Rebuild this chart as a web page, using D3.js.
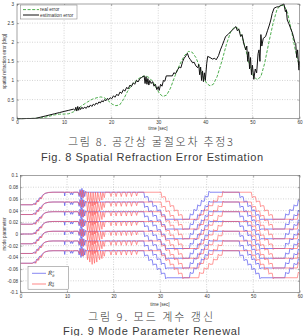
<!DOCTYPE html>
<html><head><meta charset="utf-8">
<script src="https://cdn.jsdelivr.net/npm/d3@7"></script>
<style>body{margin:0;background:#fff}svg{display:block}</style>
</head><body><svg id="c" width="306" height="336"></svg>
<script>
// ---------- data ----------
const timeTicks = [0, 10, 20, 30, 40, 50, 60];
const errTicks = [0, 0.5, 1, 1.5, 2, 2.5, 3];
const modeTicks = [0.1, 0.08, 0.06, 0.04, 0.02, 0, -0.02, -0.04, -0.06, -0.08, -0.1];
const modeTickLabels = ["0.1","0.08","0.06","0.04","0.02","0","-0.02","-0.04","-0.06","-0.08","-0.1"];

// Fig 8: real error (time, deg)
const realErr = [[0,0],[2,0.005],[4,0.01],[5,0.02],[6,0.04],[7,0.07],[8,0.1],[9,0.12],[10,0.12],[11,0.13],[12,0.18],[13,0.27],[14,0.36],[15,0.44],[16,0.51],[17,0.55],[17.8,0.57],[18.5,0.55],[19.3,0.48],[20.2,0.38],[21,0.34],[21.8,0.36],[22.6,0.5],[23.5,0.72],[24.5,0.9],[25.5,1.02],[26.5,1.1],[27.3,1.12],[28,1.08],[28.8,0.98],[29.6,0.8],[30.3,0.65],[31,0.58],[31.8,0.62],[32.6,0.8],[33.5,1.1],[34.5,1.4],[35.5,1.64],[36.4,1.76],[37.2,1.74],[38,1.6],[38.8,1.35],[39.6,1.08],[40.3,0.92],[41,0.86],[41.7,0.9],[42.5,1.1],[43.5,1.5],[44.5,1.95],[45.4,2.28],[46.2,2.4],[47,2.36],[47.8,2.15],[48.6,1.8],[49.4,1.4],[50.2,1.12],[51,1.02],[51.8,1.1],[52.6,1.45],[53.5,2.0],[54.4,2.5],[55.2,2.85],[56,2.97],[56.8,2.95],[57.5,2.75],[58.3,2.3],[59.1,1.8],[60,1.37]];

// Fig 8: estimation error (time, deg)
const estErr = [[0,0],[1,0],[2,0.005],[3,0.005],[4,0.01],[5,0.04],[6,0.07],[7,0.1],[8,0.13],[9,0.16],[10,0.19],[11,0.22],[12,0.25],[12.3,0.22],[12.5,0.3],[12.7,0.2],[12.9,0.32],[13.1,0.22],[13.3,0.3],[13.5,0.24],[13.8,0.3],[14,0.26],[14.4,0.3],[14.7,0.27],[15,0.33],[15.3,0.3],[15.6,0.36],[15.9,0.32],[16.2,0.38],[16.5,0.35],[16.8,0.41],[17.1,0.38],[17.4,0.44],[17.7,0.41],[18,0.47],[18.3,0.44],[18.6,0.5],[18.9,0.47],[19.2,0.53],[19.5,0.5],[19.8,0.55],[20.1,0.52],[20.5,0.6],[20.8,0.56],[21.2,0.64],[21.5,0.6],[21.9,0.7],[22.2,0.66],[22.6,0.76],[22.9,0.72],[23.3,0.82],[23.6,0.78],[24,0.88],[24.3,0.84],[24.7,0.94],[25,0.9],[25.4,1.0],[25.7,0.96],[26.1,1.05],[26.5,1.08],[27,1.12],[27.2,0.92],[27.4,1.1],[27.6,0.9],[27.8,1.05],[28,0.88],[28.2,1.0],[28.5,0.92],[28.8,0.97],[29.1,0.85],[29.4,0.9],[29.7,0.76],[30,0.84],[30.2,0.74],[30.5,0.9],[30.8,0.85],[31.1,1.0],[31.4,0.98],[31.7,1.12],[32.5,1.12],[33,1.12],[33.3,1.2],[33.7,1.18],[34.1,1.28],[34.5,1.35],[34.8,1.33],[35.2,1.5],[35.5,1.58],[35.9,1.65],[36.2,1.71],[36.5,1.6],[36.8,1.55],[37.3,1.46],[37.6,1.48],[38,1.38],[38.4,1.33],[38.6,1.42],[38.8,1.15],[39,1.35],[39.2,1.0],[39.4,1.25],[39.6,0.97],[39.8,1.2],[40,1.0],[40.3,1.45],[40.5,1.63],[41,1.6],[41.5,1.56],[42,1.58],[42.3,1.54],[42.8,1.65],[43.2,1.8],[43.6,1.92],[44,2.05],[44.3,2.15],[44.8,2.2],[45.4,2.28],[46,2.35],[46.5,2.41],[46.8,2.3],[47.1,2.35],[47.5,2.15],[47.8,2.2],[48.2,1.95],[48.6,1.8],[48.8,1.9],[49,1.5],[49.2,1.75],[49.4,1.3],[49.6,1.6],[49.8,1.15],[50,1.4],[50.3,1.03],[50.6,1.3],[50.9,1.2],[51.2,1.7],[51.4,1.8],[51.6,1.5],[51.8,2.2],[52,1.9],[52.3,2.1],[52.8,2.15],[53.2,2.3],[53.6,2.45],[53.9,2.58],[54.2,2.75],[54.6,2.89],[55.1,2.92],[55.6,2.93],[56.2,2.97],[56.7,3.0],[57,2.8],[57.2,2.85],[57.4,2.58],[57.7,2.5],[58,2.4],[58.5,2.24],[58.8,2.1],[59,2.0],[59.2,1.97],[59.4,1.6],[59.6,1.8],[59.8,1.4],[59.9,1.27],[60,1.5]];

// Fig 9: top curve of each series (time, value); other curves are the same trace shifted by lineOffsets
const blueTop = [[0,0.05],[2.5,0.05],[2.9,0.052],[3.1,0.05],[3.5,0.057],[3.7,0.055],[4.1,0.062],[4.3,0.06],[4.7,0.066],[5.2,0.069],[6,0.071],[7,0.0714],[9.4,0.0714],[9.5,0.065],[9.6,0.0714],[10.6,0.0714],[10.8,0.067],[11,0.0714],[11.2,0.067],[11.4,0.0714],[12.4,0.0714],[12.6,0.064],[12.8,0.076],[13,0.06],[13.2,0.078],[13.4,0.062],[13.6,0.075],[13.8,0.064],[14,0.073],[14.2,0.0714],[26.5,0.0714],[26.7,0.062],[26.9,0.0637],[27.4,0.0637],[27.6,0.0543],[27.8,0.056],[28.3,0.056],[28.5,0.0466],[28.7,0.0483],[29.2,0.0483],[29.4,0.0389],[29.6,0.0406],[30.1,0.0406],[30.3,0.0312],[30.5,0.0329],[31.0,0.0329],[31.2,0.0235],[31.4,0.0252],[36.3,0.0252],[36.5,0.0346],[36.7,0.0329],[37.1,0.0329],[37.3,0.0423],[37.5,0.0406],[37.9,0.0406],[38.1,0.05],[38.3,0.0483],[38.7,0.0483],[38.9,0.0577],[39.1,0.056],[39.5,0.056],[39.7,0.0654],[39.9,0.0637],[40.3,0.0637],[40.5,0.0731],[40.7,0.0714],[47,0.0714],[47.2,0.062],[47.4,0.0637],[47.85,0.0637],[48.05,0.0543],[48.25,0.056],[48.7,0.056],[48.9,0.0466],[49.1,0.0483],[49.55,0.0483],[49.75,0.0389],[49.95,0.0406],[50.4,0.0406],[50.6,0.0312],[50.8,0.0329],[51.25,0.0329],[51.45,0.0235],[51.65,0.0252],[56.8,0.0252],[57,0.0346],[57.2,0.0329],[57.7,0.0329],[57.9,0.0423],[58.1,0.0406],[58.6,0.0406],[58.8,0.05],[59,0.0483],[59.5,0.0483],[59.7,0.0577],[59.9,0.056],[60,0.056]];

const redTop = [[0,0.05],[2.7,0.05],[3.1,0.053],[3.3,0.05],[3.7,0.058],[3.9,0.055],[4.3,0.063],[4.5,0.06],[4.9,0.067],[5.4,0.07],[6.2,0.071],[7,0.0714],[12.4,0.0714],[12.7,0.066],[12.9,0.074],[13.1,0.063],[13.3,0.075],[13.5,0.062],[13.7,0.0714],[14.2,0.0714],[14.4,0.056],[14.6,0.0714],[14.9,0.052],[15.1,0.0714],[15.4,0.048],[15.6,0.0714],[15.9,0.05],[16.1,0.0714],[16.4,0.052],[16.6,0.0714],[17,0.056],[17.2,0.0714],[17.5,0.058],[17.7,0.0714],[18,0.062],[18.2,0.0714],[19.2,0.0714],[19.45,0.064],[19.7,0.0714],[20.3,0.0714],[20.55,0.064],[20.8,0.0714],[21.4,0.0714],[21.65,0.064],[21.9,0.0714],[22.5,0.0714],[22.75,0.064],[23,0.0714],[23.6,0.0714],[23.85,0.064],[24.1,0.0714],[24.7,0.0714],[24.95,0.065],[25.2,0.0714],[30.2,0.0714],[30.4,0.062],[30.6,0.0637],[31.1,0.0637],[31.3,0.0543],[31.5,0.056],[32.0,0.056],[32.2,0.0466],[32.4,0.0483],[32.9,0.0483],[33.1,0.0389],[33.3,0.0406],[33.8,0.0406],[34.0,0.0312],[34.2,0.0329],[34.7,0.0329],[34.9,0.0235],[35.1,0.0252],[38.3,0.0252],[38.5,0.0346],[38.7,0.0329],[39.3,0.0329],[39.5,0.0423],[39.7,0.0406],[40.3,0.0406],[40.5,0.05],[40.7,0.0483],[41.3,0.0483],[41.5,0.0577],[41.7,0.056],[42.3,0.056],[42.5,0.0654],[42.7,0.0637],[43.3,0.0637],[43.5,0.0731],[43.7,0.0714],[49.6,0.0714],[49.8,0.062],[50,0.0637],[50.5,0.0637],[50.7,0.0543],[50.9,0.056],[51.4,0.056],[51.6,0.0466],[51.8,0.0483],[52.3,0.0483],[52.5,0.0389],[52.7,0.0406],[53.2,0.0406],[53.4,0.0312],[53.6,0.0329],[54.1,0.0329],[54.3,0.0235],[54.5,0.0252],[59.5,0.0252],[59.7,0.0346],[59.9,0.0329],[60,0.0329]];

const lineOffsets = [0, -0.0167, -0.0333, -0.05, -0.0667, -0.0833, -0.1];

// ---------- drawing ----------
const svg = d3.select('#c');
const FONT = 'Liberation Sans, Arial, sans-serif';

function frame(x, y, xt, yt, yfmt, padX, padY) {
  const [x0, x1] = x.range();
  const [y0, y1] = y.range();
  const g = svg.append('g');
  g.append('g').selectAll('line').data(xt.slice(1, -1)).join('line')
    .attr('x1', d => x(d)).attr('x2', d => x(d)).attr('y1', y0).attr('y2', y1)
    .attr('stroke', '#aaa').attr('stroke-width', 0.5).attr('stroke-dasharray', '1,1.5');
  g.append('g').selectAll('line').data(yt.filter(d => y(d) > y1 + 0.5 && y(d) < y0 - 0.5)).join('line')
    .attr('y1', d => y(d)).attr('y2', d => y(d)).attr('x1', x0).attr('x2', x1)
    .attr('stroke', '#aaa').attr('stroke-width', 0.5).attr('stroke-dasharray', '1,1.5');
  const style = sel => {
    sel.select('.domain').remove();
    sel.selectAll('line').attr('stroke', '#666').attr('stroke-width', 0.5);
    sel.selectAll('text').attr('font-size', 4.6).attr('font-family', FONT).attr('fill', '#333');
  };
  svg.append('g').attr('transform', `translate(0,${y0})`)
    .call(d3.axisBottom(x).tickValues(xt).tickSize(-2).tickPadding(padX).tickFormat(d3.format('d'))).call(style);
  svg.append('g').attr('transform', `translate(0,${y1})`)
    .call(d3.axisTop(x).tickValues(xt).tickSize(-2).tickFormat('')).call(style);
  svg.append('g').attr('transform', `translate(${x0},0)`)
    .call(d3.axisLeft(y).tickValues(yt).tickSize(-2).tickPadding(padY).tickFormat(yfmt)).call(style);
  svg.append('g').attr('transform', `translate(${x1},0)`)
    .call(d3.axisRight(y).tickValues(yt).tickSize(-2).tickFormat('')).call(style);
  return g;
}

function box(x, y) {
  const [x0, x1] = x.range();
  const [y0, y1] = y.range();
  svg.append('rect').attr('x', x0).attr('y', y1).attr('width', x1 - x0).attr('height', y0 - y1)
    .attr('fill', 'none').attr('stroke', '#666').attr('stroke-width', 0.6);
}

// ---- Fig 8 ----
const x8 = d3.scaleLinear().domain([0, 60]).range([17, 299.5]);
const y8 = d3.scaleLinear().domain([0, 3]).range([118.7, 4]);
frame(x8, y8, timeTicks, errTicks, d => String(d), 2, 3);
const line8 = d3.line().x(d => x8(d[0])).y(d => y8(d[1]));
svg.append('path').attr('d', line8(realErr)).attr('fill', 'none')
  .attr('stroke', '#3aa53a').attr('stroke-width', 0.9).attr('stroke-dasharray', '3,1.6');
svg.append('path').attr('d', line8(estErr)).attr('fill', 'none')
  .attr('stroke', '#111').attr('stroke-width', 1.0).attr('stroke-linejoin', 'round');
box(x8, y8);

const lg8 = svg.append('g');
lg8.append('rect').attr('x', 20.5).attr('y', 5).attr('width', 56.5).attr('height', 14)
  .attr('fill', '#fff').attr('stroke', '#777').attr('stroke-width', 0.5);
lg8.append('line').attr('x1', 23).attr('x2', 39).attr('y1', 9.6).attr('y2', 9.6)
  .attr('stroke', '#3aa53a').attr('stroke-width', 0.9).attr('stroke-dasharray', '3,1.6');
lg8.append('line').attr('x1', 23).attr('x2', 39).attr('y1', 15).attr('y2', 15)
  .attr('stroke', '#111').attr('stroke-width', 1);
lg8.append('text').attr('x', 40).attr('y', 11.2).text('real error')
  .attr('font-size', 4.8).attr('font-family', FONT).attr('fill', '#333');
lg8.append('text').attr('x', 40).attr('y', 16.6).text('estimation error')
  .attr('font-size', 4.8).attr('font-family', FONT).attr('fill', '#333');

svg.append('text').attr('x', 158).attr('y', 129.5).attr('text-anchor', 'middle')
  .attr('font-size', 4.5).attr('font-family', FONT).attr('fill', '#333').text('time [sec]');
svg.append('text').attr('transform', 'translate(6,61.5) rotate(-90)').attr('text-anchor', 'middle')
  .attr('font-size', 4.5).attr('font-family', FONT).attr('fill', '#333').text('spatial refraction error [deg]');

svg.append('text').attr('x', 150.5).attr('y', 146).attr('text-anchor', 'middle')
  .attr('font-size', 11).attr('font-family', 'Noto Sans CJK KR').attr('font-weight', 300).attr('fill', '#3a3a3a')
  .attr('textLength', 165).attr('lengthAdjust', 'spacing').text('그림 8. 공간상 굴절오차 추정3');
svg.append('text').attr('x', 152).attr('y', 161).attr('text-anchor', 'middle')
  .attr('font-size', 11).attr('font-family', FONT).attr('fill', '#3a3a3a')
  .attr('textLength', 222).attr('lengthAdjust', 'spacing').text('Fig. 8 Spatial Refraction Error Estimation');

// ---- Fig 9 ----
const x9 = d3.scaleLinear().domain([0, 60]).range([20.5, 299.7]);
const y9 = d3.scaleLinear().domain([-0.1, 0.1]).range([292.5, 175.5]);
frame(x9, y9, timeTicks, modeTicks, (d, i) => modeTickLabels[i], 2.5, 2.5);
const line9 = d3.line().x(d => x9(d[0])).y(d => y9(d[1]));
svg.append('clipPath').attr('id', 'cl9').append('rect')
  .attr('x', 20.5).attr('y', 175.5).attr('width', 279.2).attr('height', 117);
const gb = svg.append('g').attr('clip-path', 'url(#cl9)');
gb.selectAll('path.b').data(lineOffsets).join('path').attr('class', 'b')
  .attr('d', o => line9(blueTop.map(p => [p[0], p[1] + o]))).attr('fill', 'none')
  .attr('stroke', '#5555ee').attr('stroke-width', 0.7);
gb.selectAll('path.r').data(lineOffsets).join('path').attr('class', 'r')
  .attr('d', o => line9(redTop.map(p => [p[0], p[1] + o]))).attr('fill', 'none')
  .attr('stroke', '#ff5555').attr('stroke-width', 0.7).attr('stroke-opacity', 0.85);
box(x9, y9);

const lg9 = svg.append('g');
lg9.append('rect').attr('x', 28).attr('y', 266.7).attr('width', 40.5).attr('height', 22.5)
  .attr('fill', '#fff').attr('stroke', '#777').attr('stroke-width', 0.5);
lg9.append('line').attr('x1', 32).attr('x2', 46).attr('y1', 273.3).attr('y2', 273.3)
  .attr('stroke', '#5555ee').attr('stroke-width', 0.7);
lg9.append('line').attr('x1', 32).attr('x2', 46).attr('y1', 284).attr('y2', 284)
  .attr('stroke', '#ff5555').attr('stroke-width', 0.7);
function rLabel(yb, sup) {
  const t = lg9.append('text').attr('x', 48).attr('y', yb)
    .attr('font-size', 5.5).attr('font-family', 'DejaVu Serif, serif').attr('font-style', 'italic').attr('fill', '#333');
  t.append('tspan').text('R\u0302');
  t.append('tspan').attr('dy', -2).attr('font-size', 3.5).text(sup);
  t.append('tspan').attr('dx', -2).attr('dy', 3.6).attr('font-size', 3.5).text('θ');
}
rLabel(275, 'c');
rLabel(285.7, 's');

svg.append('text').attr('x', 160).attr('y', 305.5).attr('text-anchor', 'middle')
  .attr('font-size', 4.5).attr('font-family', FONT).attr('fill', '#333').text('time [sec]');
svg.append('text').attr('transform', 'translate(6,234) rotate(-90)').attr('text-anchor', 'middle')
  .attr('font-size', 4.5).attr('font-family', FONT).attr('fill', '#333').text('mode parameter');

svg.append('text').attr('x', 150.5).attr('y', 320.5).attr('text-anchor', 'middle')
  .attr('font-size', 11).attr('font-family', 'Noto Sans CJK KR').attr('font-weight', 300).attr('fill', '#3a3a3a')
  .attr('textLength', 125).attr('lengthAdjust', 'spacing').text('그림 9. 모드 계수 갱신');
svg.append('text').attr('x', 151.5).attr('y', 335).attr('text-anchor', 'middle')
  .attr('font-size', 11).attr('font-family', FONT).attr('fill', '#3a3a3a')
  .attr('textLength', 177).attr('lengthAdjust', 'spacing').text('Fig. 9 Mode Parameter Renewal');
</script>
</body></html>
